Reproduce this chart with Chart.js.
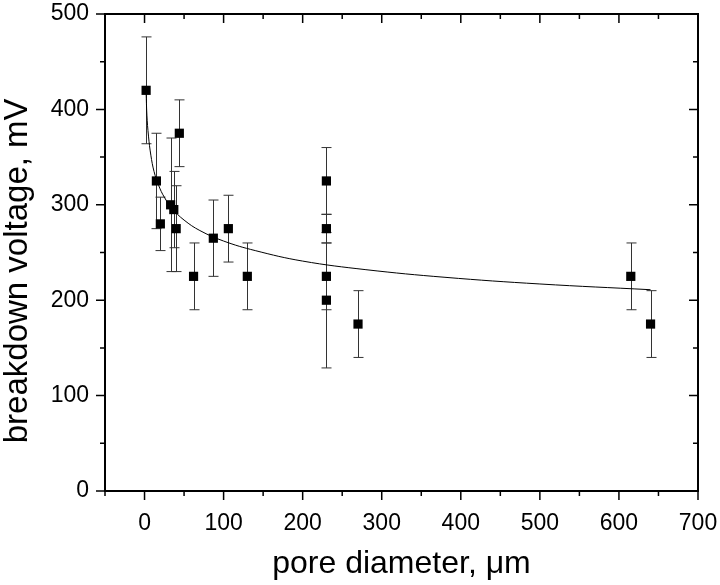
<!DOCTYPE html>
<html>

<head>
    <title>Breakdown voltage vs pore diameter</title>
    <script src="https://cdn.jsdelivr.net/npm/chart.js@4.4.1/dist/chart.umd.min.js"></script>
    <style>
        body { margin: 0; background: #fff; }
        #wrap { width: 720px; height: 585px; }
    </style>
</head>

<body>
    <div id="wrap"><canvas id="plot"></canvas></div>
    <script>
        // measured points
        const poreDiameter = [2, 15, 20, 33, 37, 40, 44, 62, 87, 106, 130, 230, 230, 230, 230, 270, 615, 640];
        const breakdownVoltage = [420, 325, 280, 300, 295, 275, 375, 225, 265, 275, 225, 325, 275, 225, 200, 175, 225, 175];
        const voltageError = [56, 50, 28, 70, 40, 45, 35, 35, 40, 35, 35, 35, 15, 35, 71, 35, 35, 35];

        // fitted curve
        const fitDiameter = [2, 3, 5, 8, 12, 18, 25, 35, 50, 70, 100, 140, 200, 280, 380, 500, 640];
        const fitVoltage = [418, 394, 372, 352, 335, 320, 308, 296, 284, 273, 262, 252, 241, 232, 224, 217, 211];

        const xTickValues = [0, 100, 200, 300, 400, 500, 600, 700];
        const yTickValues = [0, 100, 200, 300, 400, 500];

        const fontFamily = "'Liberation Sans', Arial, sans-serif";

        const errorBars = {
            id: 'errorBars',
            beforeDatasetsDraw(chart) {
                const { ctx, scales: { x, y } } = chart;
                ctx.save();
                ctx.strokeStyle = '#333';
                ctx.lineWidth = 1;
                poreDiameter.forEach((d, i) => {
                    const px = Math.round(x.getPixelForValue(d)) + 0.5;
                    const top = y.getPixelForValue(breakdownVoltage[i] + voltageError[i]);
                    const bot = y.getPixelForValue(breakdownVoltage[i] - voltageError[i]);
                    ctx.beginPath();
                    ctx.moveTo(px, top); ctx.lineTo(px, bot);
                    ctx.moveTo(px - 5, top); ctx.lineTo(px + 5, top);
                    ctx.moveTo(px - 5, bot); ctx.lineTo(px + 5, bot);
                    ctx.stroke();
                });
                ctx.restore();
            }
        };

        const frameTicks = {
            id: 'frameTicks',
            afterDraw(chart) {
                const { ctx, chartArea: a, scales: { x, y } } = chart;
                ctx.save();
                ctx.strokeStyle = '#000';
                ctx.lineWidth = 1.5;
                ctx.beginPath();
                for (let v = -50; v <= 700; v += 50) {
                    const px = x.getPixelForValue(v);
                    const len = xTickValues.includes(v) ? 9 : 5;
                    ctx.moveTo(px, a.bottom); ctx.lineTo(px, a.bottom + len);
                    ctx.moveTo(px, a.top); ctx.lineTo(px, a.top + len);
                }
                for (let v = 0; v <= 500; v += 50) {
                    const py = y.getPixelForValue(v);
                    const len = yTickValues.includes(v) ? 9 : 5;
                    ctx.moveTo(a.left, py); ctx.lineTo(a.left - len, py);
                    ctx.moveTo(a.right, py); ctx.lineTo(a.right - len, py);
                }
                ctx.stroke();
                ctx.lineWidth = 2;
                ctx.strokeRect(a.left, a.top, a.right - a.left, a.bottom - a.top);
                ctx.restore();
            }
        };

        function noOverflow(s) {
            s.paddingTop = 0;
            s.paddingBottom = 0;
            s.paddingLeft = 0;
            s.paddingRight = 0;
        }

        const ctx = document.getElementById('plot').getContext('2d');
        const chart = new Chart(ctx, {
            type: 'scatter',
            data: {
                datasets: [{
                    type: 'line',
                    data: fitDiameter.map((d, i) => ({ x: d, y: fitVoltage[i] })),
                    borderColor: '#000',
                    borderWidth: 1,
                    pointRadius: 0,
                    tension: 0.4,
                    fill: false
                }, {
                    data: poreDiameter.map((d, i) => ({ x: d, y: breakdownVoltage[i] })),
                    pointStyle: 'rect',
                    pointRadius: 6.5,
                    backgroundColor: '#000',
                    borderColor: '#000',
                    borderWidth: 0
                }]
            },
            options: {
                responsive: true,
                maintainAspectRatio: false,
                animation: false,
                layout: { padding: { top: 14, right: 22, left: 0, bottom: 0 } },
                plugins: {
                    legend: { display: false },
                    tooltip: { enabled: false }
                },
                scales: {
                    x: {
                        type: 'linear',
                        min: -50,
                        max: 700,
                        afterBuildTicks: s => { s.ticks = xTickValues.map(v => ({ value: v })); },
                        afterFit: s => { s.height = 94; noOverflow(s); },
                        grid: { display: false, drawTicks: false },
                        border: { display: false },
                        ticks: {
                            padding: 19,
                            color: '#000',
                            maxRotation: 0,
                            font: { family: fontFamily, size: 23 }
                        },
                        title: {
                            display: true,
                            text: 'pore diameter, μm',
                            color: '#000',
                            padding: { top: 0, bottom: 5 },
                            font: { family: fontFamily, size: 32, lineHeight: 1 }
                        }
                    },
                    y: {
                        type: 'linear',
                        min: 0,
                        max: 500,
                        afterBuildTicks: s => { s.ticks = yTickValues.map(v => ({ value: v })); },
                        afterFit: s => { s.width = 105; noOverflow(s); },
                        grid: { display: false, drawTicks: false },
                        border: { display: false },
                        ticks: {
                            padding: 16,
                            color: '#000',
                            font: { family: fontFamily, size: 23 }
                        },
                        title: {
                            display: true,
                            // trailing spaces nudge the rotated title downward, as in the original
                            text: 'breakdown voltage, mV\u00A0\u00A0\u00A0\u00A0',
                            color: '#000',
                            padding: { top: 1, bottom: 0 },
                            font: { family: fontFamily, size: 33, lineHeight: 1 }
                        }
                    }
                }
            },
            plugins: [errorBars, frameTicks]
        });
    </script>
</body>

</html>
